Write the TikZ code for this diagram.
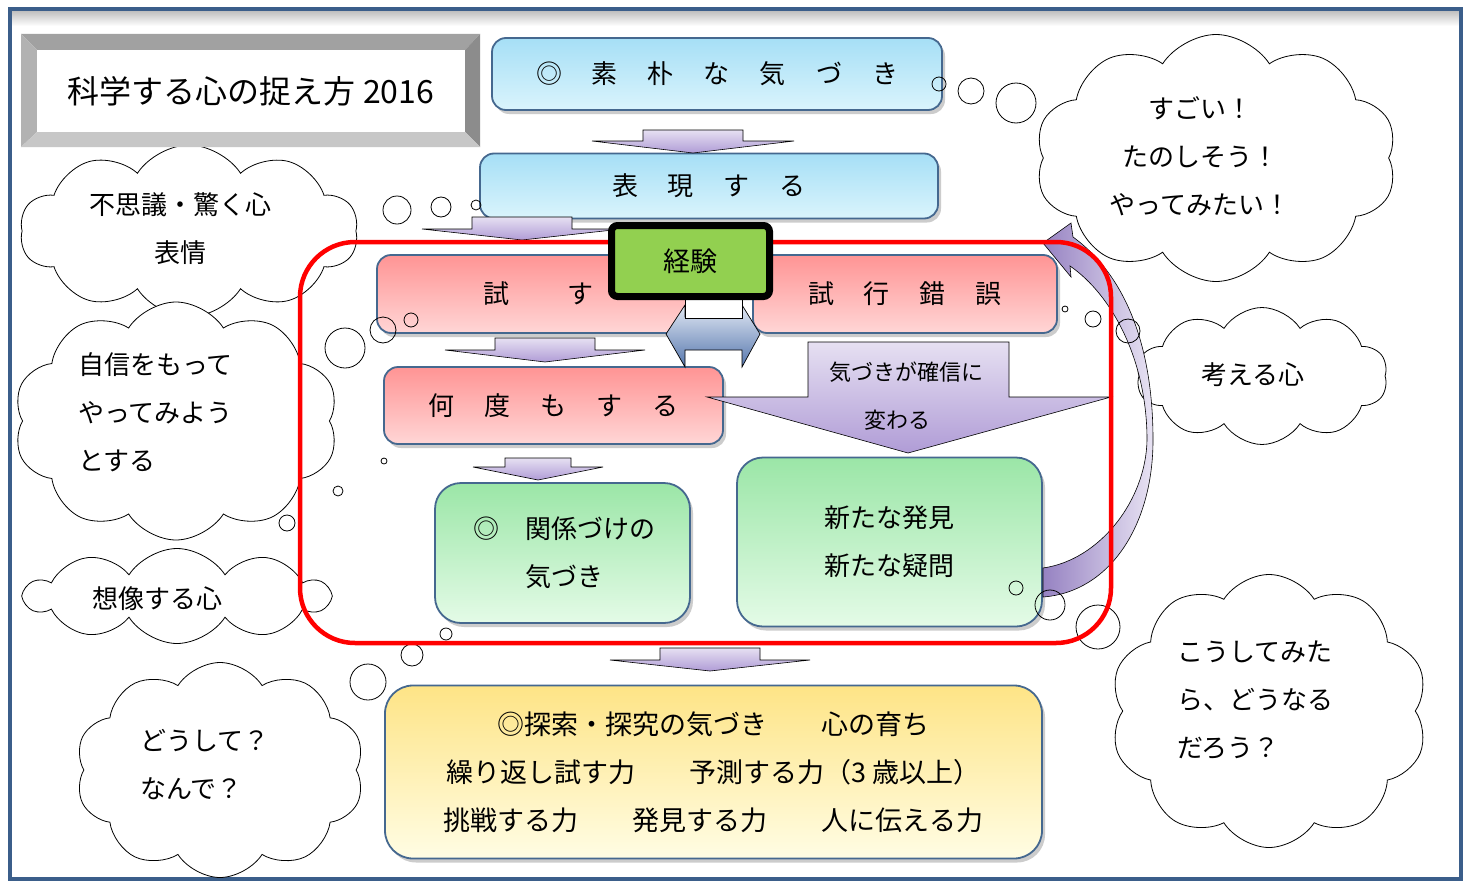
\documentclass[tikz,border=0pt]{standalone}
\usepackage{fontspec}
\setmainfont{Noto Sans CJK JP}
\usetikzlibrary{shapes.symbols,shadows}
\definecolor{frameblue}{HTML}{3B5E8A}
\definecolor{boxedge}{HTML}{45688F}
\definecolor{blueT}{HTML}{A6DFF6}
\definecolor{blueB}{HTML}{DAF4FC}
\definecolor{pinkT}{HTML}{FF9494}
\definecolor{pinkB}{HTML}{FFD6D6}
\definecolor{greenT}{HTML}{9BE6A7}
\definecolor{greenB}{HTML}{E4FBE7}
\definecolor{yellowT}{HTML}{FEE486}
\definecolor{yellowB}{HTML}{FFFDE4}
\definecolor{purT}{HTML}{E6E0F2}
\definecolor{purB}{HTML}{B09CD6}
\definecolor{dblT}{HTML}{E2E9F4}
\definecolor{dblB}{HTML}{5576AD}
\definecolor{kgreen}{HTML}{92D050}
\definecolor{bandL}{HTML}{9682C2}
\definecolor{bandR}{HTML}{E8E3F3}
\newcommand\blockdown[6]{%
  \draw[parrow] ({#1-#3},#2) -- ({#1+#3},#2) -- ({#1+#3},#4) -- ({#1+#5},#4)
    -- (#1,#6) -- ({#1-#5},#4) -- ({#1-#3},#4) -- cycle;}
\begin{document}
\begin{tikzpicture}[x=1pt,y=-1pt,
  txt/.style={inner sep=0pt, font=\fontsize{26}{48}\selectfont},
  box/.style={rectangle, rounded corners=14pt, draw=boxedge, line width=1.8pt,
    drop shadow={shadow xshift=3pt, shadow yshift=-4pt, opacity=0.4},
    inner sep=0pt, font=\fontsize{26}{48}\selectfont},
  bluebox/.style={box, top color=blueT, bottom color=blueB},
  pinkbox/.style={box, top color=pinkT, bottom color=pinkB},
  greenbox/.style={box, rounded corners=26pt, top color=greenT, bottom color=greenB},
  yellowbox/.style={box, rounded corners=28pt, top color=yellowT, bottom color=yellowB},
  parrow/.style={draw=black, line width=0.6pt, top color=purT, bottom color=purB},
  thought/.style={cloud, cloud puffs=10, cloud puff arc=115, cloud ignores aspect,
    draw=black, line width=0.8pt, fill=white, inner sep=0pt},
  bubble/.style={draw=black, line width=0.8pt}]
\useasboundingbox (0,0) rectangle (1471,883);
\fill[white] (0,0) rectangle (1471,883);
% frame
\shade[top color=black!25, bottom color=white] (12,11) rectangle (1459,26);
\draw[frameblue, line width=3.5pt] (10,9) rectangle (1461,879);

% clouds
\node[thought, minimum width=338pt, minimum height=172pt] (c1) at (189,231) {};
\node[thought, minimum width=325pt, minimum height=238pt] (c2) at (176,421) {};
\node[thought, minimum width=303pt, minimum height=95pt] (c3) at (177,596) {};
\node[thought, minimum width=289pt, minimum height=215pt] (c4) at (220,770) {};
\node[thought, minimum width=362pt, minimum height=247pt] (c5) at (1216,158) {};
\node[thought, minimum width=251pt, minimum height=137pt] (c6) at (1262,376) {};
\node[thought, minimum width=318pt, minimum height=273pt] (c7) at (1269,711) {};
\node[txt, align=center] (t1) at (180,229) {不思議・驚く心\\表情};
\node[txt, align=left, anchor=north west] (t2) at (78,352) {自信をもって\\やってみよう\\とする};
\node[txt] (t3) at (157,599) {想像する心};
\node[txt, align=left, anchor=north west] (t4) at (140,729) {どうして？\\なんで？};
\node[txt, align=center] (t5) at (1200,156) {すごい！\\たのしそう！\\やってみたい！};
\node[txt] (t6) at (1253,375) {考える心};
\node[txt, align=left, anchor=north west] (t7) at (1177,641) {こうしてみた\\ら、どうなる\\だろう？};

% title
\fill[black!37] (21,34) -- (480,34) -- (465,50) -- (37,50) -- cycle;
\fill[black!30] (21,34) -- (37,50) -- (37,132) -- (21,147) -- cycle;
\fill[black!45] (480,34) -- (480,147) -- (465,132) -- (465,50) -- cycle;
\fill[black!22] (21,147) -- (37,132) -- (465,132) -- (480,147) -- cycle;
\node[fill=white, minimum width=428pt, minimum height=82pt, inner sep=0pt,
  font=\fontsize{32}{38}\selectfont] (title) at (251,91) {\raisebox{-2pt}{科学する心の捉え方 2016}};

% blue boxes
\node[bluebox, minimum width=450pt, minimum height=72pt] (b1) at (717,74)
  {\raisebox{-3pt}{◎\hspace{30pt}素\hspace{30pt}朴\hspace{30pt}な\hspace{30pt}気\hspace{30pt}づ\hspace{30pt}き}};
\node[bluebox, minimum width=458pt, minimum height=65pt] (b2) at (709,186)
  {\raisebox{-4pt}{表\hspace{30pt}現\hspace{30pt}す\hspace{30pt}る}};
\blockdown{693}{130}{50}{141}{101}{153}
\blockdown{522}{217}{50}{229}{100}{240}

% pink boxes
\node[pinkbox, minimum width=323pt, minimum height=78pt] (p1) at (538.5,294)
  {試\hspace{58pt}す};
\node[pinkbox, minimum width=304pt, minimum height=78pt] (p2) at (905,294)
  {\raisebox{-2pt}{試\hspace{30pt}行\hspace{30pt}錯\hspace{30pt}誤}};
\blockdown{545}{338}{50}{350}{100}{362}
\node[pinkbox, minimum width=339pt, minimum height=77pt] (p3) at (553.5,405.5)
  {\raisebox{-2pt}{何\hspace{30pt}度\hspace{30pt}も\hspace{30pt}す\hspace{30pt}る}};
% big arrow
\draw[parrow] (808,342) -- (1009,342) -- (1009,397) -- (1111,397) -- (908,453)
  -- (707,397) -- (808,397) -- cycle;
\node[inner sep=0pt, font=\fontsize{22}{26}\selectfont] (a6a) at (906,372) {気づきが確信に};
\node[inner sep=0pt, font=\fontsize{22}{26}\selectfont] (a6b) at (897,420) {変わる};
\blockdown{538}{458}{33}{467}{65}{480}

% green boxes
\node[greenbox, minimum width=255pt, minimum height=140pt] (g1) at (562.5,553) {};
\node[txt, align=left] (g1t) at (564,553) {◎　関係づけの\\\hspace*{2em}気づき};
\node[greenbox, minimum width=305pt, minimum height=169pt, align=center] (g2) at (889.5,542)
  {新たな発見\\新たな疑問};
\blockdown{710}{648}{50}{660}{100}{671}
% yellow box
\node[yellowbox, minimum width=657pt, minimum height=173pt, align=center,
  font=\fontsize{27}{48}\selectfont] (y1) at (713.5,772)
  {◎探索・探究の気づき　　心の育ち\\繰り返し試す力　　予測する力（3 歳以上）\\挑戦する力　　発見する力　　人に伝える力};

% double arrow and stem
\draw[draw=black, line width=0.7pt, top color=dblT, bottom color=dblB]
  (666,334) -- (685,305) -- (685,317) -- (742,317) -- (742,305) -- (760,334)
  -- (742,367) -- (742,350) -- (685,350) -- (685,367) -- cycle;
\draw[black, line width=0.8pt, fill=white] (685,298) rectangle (742,318);

% curved arrow
\shade[left color=bandL, right color=bandR, draw=black, line width=0.6pt]
  (1043,243) -- (1071,223) -- (1073,237)
  .. controls (1125,275) and (1153,345) .. (1153,440)
  .. controls (1153,525) and (1110,592) .. (1043,597)
  -- (1043,568)
  .. controls (1100,560) and (1146,500) .. (1147,440)
  .. controls (1147,360) and (1112,295) .. (1070,266)
  -- (1071,277) -- cycle;

% bubbles
\draw[bubble] (939,84) circle (7);
\draw[bubble] (971,91) circle (13);
\draw[bubble] (1016,103) circle (20);
\draw[bubble] (397,210) circle (14);
\draw[bubble] (441,207) circle (10);
\draw[bubble] (476,205) circle (5);
\draw[bubble] (345,348) circle (20);
\draw[bubble] (383,330) circle (13);
\draw[bubble] (411,320) circle (7);
\draw[bubble] (384,461) circle (3);
\draw[bubble] (338,491) circle (5);
\draw[bubble] (287,523) circle (8);
\draw[bubble] (446,634) circle (6);
\draw[bubble] (412,655) circle (11);
\draw[bubble] (368,682) circle (18);
\draw[bubble] (1065,309) circle (3);
\draw[bubble] (1093,319) circle (8);
\draw[bubble] (1128,331) circle (12);
\draw[bubble] (1016,588) circle (7);
\draw[bubble] (1050,605) circle (15);
\draw[bubble] (1098,627) circle (22);

% red frame
\draw[red, line width=4.5pt, rounded corners=55pt] (300,242) rectangle (1111,643);

% keiken
\node[draw=black, line width=7pt, fill=kgreen, rounded corners=6pt, minimum width=158pt,
  minimum height=71pt, inner sep=0pt, font=\fontsize{27}{30}\selectfont] (kk) at (690.5,261) {経験};
\end{tikzpicture}
\end{document}
